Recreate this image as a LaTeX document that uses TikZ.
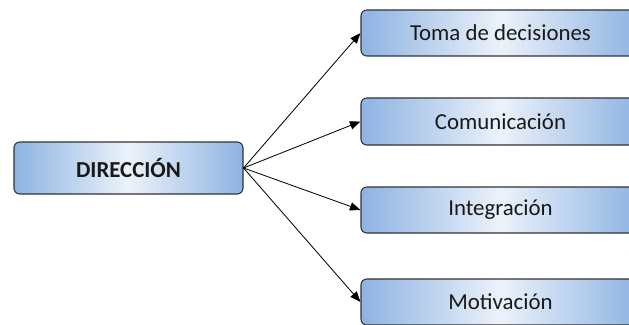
\documentclass[tikz,border=0pt]{standalone}
\usepackage{fontspec}
\setmainfont{Carlito}
\usepackage{tikz}
\usetikzlibrary{arrows.meta}

\definecolor{boxblue}{RGB}{141,179,226}
\definecolor{boxlight}{RGB}{236,242,250}
\definecolor{boxline}{RGB}{50,50,55}

\begin{document}
\begin{tikzpicture}[
	caja/.style={shape=rectangle, rounded corners=5pt, draw=boxline, line width=0.9pt,
		left color=boxblue, right color=boxblue, middle color=boxlight,
		inner sep=0pt, font=\fontsize{19.5}{22}\selectfont, text=black!90},
	rama/.style={-{Triangle[length=9pt,width=7pt]}, line width=0.7pt}
	]
	\clip (0,0) rectangle (18.87,9.72);

	\node[caja, minimum width=6.87cm, minimum height=1.56cm] (dir) at (3.855, 4.68) {\textbf{DIRECCIÓN}};

	\node[caja, minimum width=8.37cm, minimum height=1.38cm] (tom) at (15.015, 8.73)  {Toma de decisiones};
	\node[caja, minimum width=8.37cm, minimum height=1.41cm] (com) at (15.015, 6.075) {Comunicación};
	\node[caja, minimum width=8.37cm, minimum height=1.38cm] (int) at (15.015, 3.42)  {Integración};
	\node[caja, minimum width=8.37cm, minimum height=1.38cm] (mot) at (15.015, 0.66)  {Motivación};

	\draw[rama] (dir.east) -- (tom.west);
	\draw[rama] (dir.east) -- (com.west);
	\draw[rama] (dir.east) -- (int.west);
	\draw[rama] (dir.east) -- (mot.west);

\end{tikzpicture}
\end{document}
